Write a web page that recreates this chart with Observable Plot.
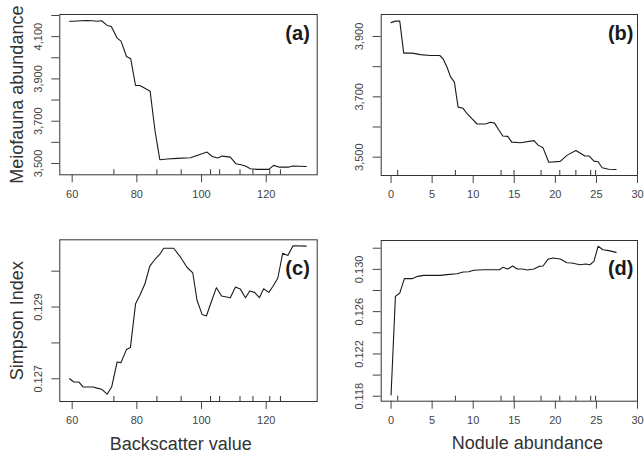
<!DOCTYPE html>
<html><head><meta charset="utf-8">
<script src="https://cdn.jsdelivr.net/npm/d3@7"></script>
<script src="https://cdn.jsdelivr.net/npm/@observablehq/plot@0.6"></script>
<style>
body{margin:0;background:#fff;}
#chart{position:relative;width:644px;height:453px;overflow:hidden;}
#chart svg{position:absolute;overflow:visible;}
</style></head><body><div id="chart"></div>
<script>
// Panel (a): Meiofauna abundance vs Backscatter value
const backscatterA = [59.2,60.3,62.6,64.4,66.2,67.7,69.1,70.8,72.1,73.9,75.1,76.8,78.1,79.6,80.9,82.2,84.1,85.6,87.1,89.4,92.5,96.6,99.5,101.7,103.3,105.0,106.4,108.9,110.6,112.2,113.6,115.1,117.2,120.8,122.3,123.9,127.0,128.3,132.4];
const meiofaunaA = [4173,4173,4175,4176,4175,4173,4175,4153,4148,4093,4079,4006,3995,3869,3869,3858,3842,3656,3518,3521,3524,3527,3543,3554,3533,3526,3535,3530,3499,3494,3488,3475,3472,3472,3491,3483,3483,3488,3486];
// Panel (b): Meiofauna abundance vs Nodule abundance
const noduleB = [0,0.53,1.06,1.54,2.56,3.57,4.79,5.93,6.33,6.82,7.23,7.71,8.16,8.77,9.26,9.87,10.47,11.49,12.1,12.6,13.1,13.6,14.2,14.7,15.75,17.4,17.9,18.5,19.2,20.6,21.4,22.5,23.6,24.1,24.7,25.2,25.7,26.5,27.4];
const meiofaunaB = [3946,3951,3951,3845,3845,3840,3837,3837,3826,3798,3767,3749,3666,3662,3644,3627,3610,3610,3616,3613,3591,3570,3569,3550,3548,3555,3540,3531,3483,3486,3506,3522,3504,3504,3487,3485,3465,3460,3459];
// Panel (c): Simpson Index vs Backscatter value
const backscatterC = [59.2,60.5,62.1,63.4,64.8,66.5,67.7,69.1,70.8,72.2,73.9,75.1,76.8,78.0,79.6,80.9,82.5,84.0,85.5,87.0,88.3,91.4,93.5,95.5,97.3,98.6,100.2,101.5,103.0,104.6,106.2,108.9,110.5,112.0,113.6,114.9,116.4,117.9,119.2,120.8,122.1,123.6,125.1,126.7,128.3,132.4];
const simpsonC = [0.12700,0.12691,0.12691,0.12677,0.12677,0.12677,0.12674,0.12671,0.12657,0.12677,0.12747,0.12745,0.12782,0.12787,0.12909,0.12932,0.12965,0.13014,0.13032,0.13046,0.13064,0.13064,0.13039,0.13011,0.12995,0.12919,0.12879,0.12875,0.12914,0.12954,0.12931,0.12926,0.12956,0.12950,0.12926,0.12945,0.12941,0.12926,0.12951,0.12941,0.12958,0.12981,0.13050,0.13044,0.13071,0.13070];
// Panel (d): Simpson Index vs Nodule abundance
const noduleD = [0,0.53,1.06,1.62,2.56,3.25,3.98,4.79,6.0,6.8,8.04,8.77,9.46,10.07,11.3,12.5,13.2,13.6,14.2,14.8,15.35,15.96,16.6,17.4,17.99,18.5,19.1,19.7,20.6,21.4,22.0,23.0,23.7,24.2,24.7,25.2,25.8,26.5,27.4];
const simpsonD = [0.11811,0.12744,0.12776,0.12912,0.12912,0.12934,0.12943,0.12943,0.12943,0.12950,0.12959,0.12975,0.12978,0.12991,0.12997,0.12997,0.12997,0.13019,0.13003,0.13032,0.13003,0.13003,0.12994,0.13003,0.13028,0.13032,0.13095,0.13107,0.13098,0.13063,0.13060,0.13044,0.13050,0.13044,0.13076,0.13218,0.13186,0.13177,0.13161];
// Rug (deciles)
const backscatterDeciles = [72.9,86.2,93.7,102.8,105.6,111.9,115.9,121.1,124.4];
const noduleDeciles = [0.81,7.83,13.39,14.97,18.26,20.54,22.5,24.3,24.9];
// Ticks
const backscatterTicks = [60,80,100,120];
const noduleTicks = [0,5,10,15,20,25,30];
const meiofaunaTicksA = [3500,3600,3700,3800,3900,4000,4100,4200];
const meiofaunaLabelValuesA = [3500,3700,3900,4100];
const meiofaunaLabelsA = ["3,500","3,700","3,900","4,100"];
const meiofaunaTicksB = [3500,3600,3700,3800,3900];
const meiofaunaLabelValuesB = [3500,3700,3900];
const meiofaunaLabelsB = ["3,500","3,700","3,900"];
const simpsonTicksC = [0.127,0.128,0.129,0.130];
const simpsonLabelValuesC = [0.127,0.129];
const simpsonLabelsC = ["0.127","0.129"];
const simpsonTicksD = [0.118,0.120,0.122,0.124,0.126,0.128,0.130,0.132];
const simpsonLabelValuesD = [0.118,0.122,0.126,0.130];
const simpsonLabelsD = ["0.118","0.122","0.126","0.130"];

const FONT = "'Liberation Sans', Arial, Helvetica, sans-serif";

function panel(o) {
  const frameH = o.height - o.mt - o.mb;
  const labelMap = new Map(o.yLabelValues.map((v, i) => [v, o.yLabels[i]]));
  const marks = [
    Plot.frame({stroke: "#333", strokeWidth: 1}),
    Plot.axisX(o.xTicks, {tickSize: 8, tickPadding: 7, label: null, tickFormat: d => String(d)}),
    Plot.axisY(o.yTicks, {tickSize: 8, tickFormat: () => "", label: null}),
    Plot.axisY(o.yLabelValues, {tickSize: 0, tickRotate: -90, tickPadding: 18, label: null, tickFormat: d => labelMap.get(d)}),
    Plot.ruleX(o.rug, {insetTop: frameH - 5, stroke: "#333"}),
    Plot.line({length: o.xs.length}, {x: o.xs, y: o.ys, stroke: "#1a1a1a", strokeWidth: 1.1}),
    Plot.text([o.tag], {text: d => d, frameAnchor: "top-right", textAnchor: "end", lineAnchor: "middle", dx: o.tagDx, dy: o.tagDy, fontSize: 20, fontWeight: "bold", fill: "#1a1a1a"})
  ];
  if (o.yTitle) marks.push(Plot.text([o.yTitle], {text: d => d, frameAnchor: "left", textAnchor: "middle", lineAnchor: "middle", rotate: -90, dx: -42.8, fontSize: 18, fill: "#333"}));
  if (o.xTitle) marks.push(Plot.text([o.xTitle], {text: d => d, frameAnchor: "bottom", textAnchor: "middle", lineAnchor: "middle", dx: o.xTitleDx, dy: 42.5, fontSize: 18, fill: "#333"}));
  const svg = Plot.plot({
    width: o.width, height: o.height,
    marginLeft: o.ml, marginRight: o.mr, marginTop: o.mt, marginBottom: o.mb,
    style: {fontFamily: FONT, fontSize: "11px", color: "#444", background: "transparent"},
    x: {domain: o.xDomain},
    y: {domain: o.yDomain},
    marks
  });
  svg.style.left = o.left + "px";
  svg.style.top = o.top + "px";
  document.getElementById("chart").appendChild(svg);
}

panel({left: 0, top: 0, width: 322, height: 220, ml: 59.3, mr: 5.3, mt: 14, mb: 45.7,
  xDomain: [56.17, 135.77], yDomain: [3446.5, 4204.7],
  xTicks: backscatterTicks, yTicks: meiofaunaTicksA, yLabelValues: meiofaunaLabelValuesA, yLabels: meiofaunaLabelsA,
  rug: backscatterDeciles, xs: backscatterA, ys: meiofaunaA, tag: "(a)", tagDx: -7.4, tagDy: 19,
  yTitle: "Meiofauna abundance"});

panel({left: 322, top: 0, width: 322, height: 220, ml: 58.7, mr: 7, mt: 14, mb: 45,
  xDomain: [-1.2, 30.0], yDomain: [3439.3, 3972.9],
  xTicks: noduleTicks, yTicks: meiofaunaTicksB, yLabelValues: meiofaunaLabelValuesB, yLabels: meiofaunaLabelsB,
  rug: noduleDeciles, xs: noduleB, ys: meiofaunaB, tag: "(b)", tagDx: -4, tagDy: 19});

panel({left: 0, top: 220, width: 322, height: 233, ml: 59.3, mr: 5.3, mt: 19.3, mb: 52,
  xDomain: [56.17, 135.77], yDomain: [0.126367, 0.130875],
  xTicks: backscatterTicks, yTicks: simpsonTicksC, yLabelValues: simpsonLabelValuesC, yLabels: simpsonLabelsC,
  rug: backscatterDeciles, xs: backscatterC, ys: simpsonC, tag: "(c)", tagDx: -7.4, tagDy: 29,
  yTitle: "Simpson Index", xTitle: "Backscatter value", xTitleDx: -7.7});

panel({left: 322, top: 220, width: 322, height: 233, ml: 58.7, mr: 7, mt: 20, mb: 52.3,
  xDomain: [-1.2, 30.0], yDomain: [0.11753, 0.13273],
  xTicks: noduleTicks, yTicks: simpsonTicksD, yLabelValues: simpsonLabelValuesD, yLabels: simpsonLabelsD,
  rug: noduleDeciles, xs: noduleD, ys: simpsonD, tag: "(d)", tagDx: -4, tagDy: 28.4,
  xTitle: "Nodule abundance", xTitleDx: 18});
</script>
</body></html>
